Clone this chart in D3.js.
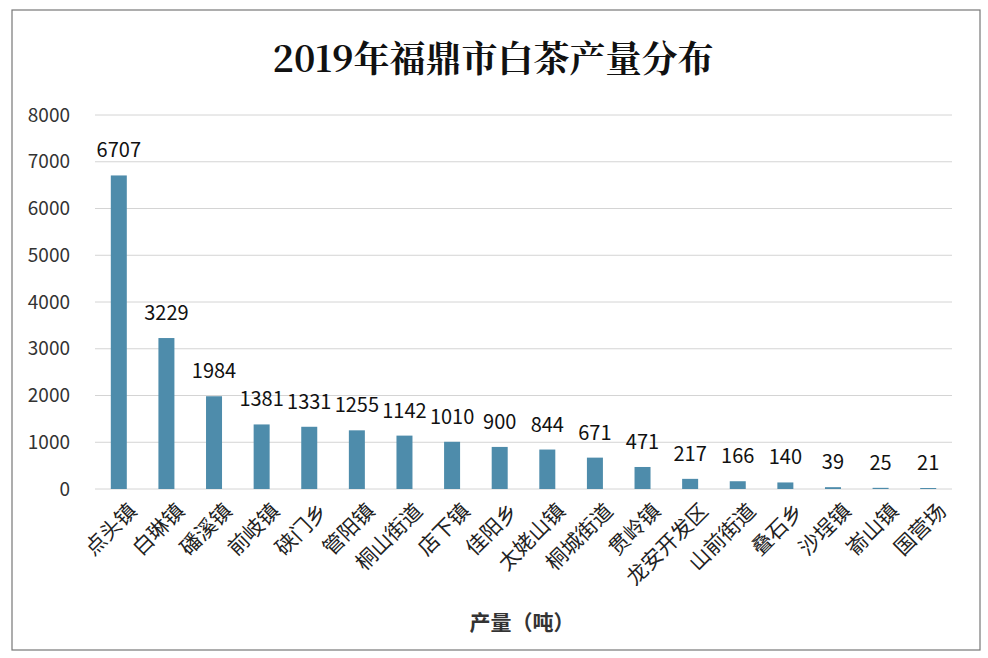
<!DOCTYPE html>
<html><head><meta charset="utf-8">
<script src="https://cdn.jsdelivr.net/npm/d3@7"></script>
<style>body{margin:0;background:#fff}</style>
</head><body><div id="chart"></div>
<script>
const towns = ["点头镇","白琳镇","磻溪镇","前岐镇","硖门乡","管阳镇","桐山街道","店下镇","佳阳乡","太姥山镇","桐城街道","贯岭镇","龙安开发区","山前街道","叠石乡","沙埕镇","嵛山镇","国营场"];
const output = [6707,3229,1984,1381,1331,1255,1142,1010,900,844,671,471,217,166,140,39,25,21];
const yTicks = [0,1000,2000,3000,4000,5000,6000,7000,8000];

const W = 988, H = 658;
const m = { left: 95, right: 36, top: 115, bottom: 169 };
const font = "'Noto Sans CJK SC', 'Noto Sans', sans-serif";

const svg = d3.select("#chart").append("svg").attr("width", W).attr("height", H);
svg.append("rect").attr("x", 12).attr("y", 10).attr("width", 968).attr("height", 640)
    .attr("fill", "#fff").attr("stroke", "#777").attr("stroke-width", 1.2);

const x = d3.scaleBand().domain(towns).range([m.left, W - m.right]);
const y = d3.scaleLinear().domain([0, 8000]).range([H - m.bottom, m.top]);

// gridlines
svg.append("g").selectAll("line").data(yTicks).join("line")
    .attr("x1", m.left).attr("x2", W - m.right)
    .attr("y1", d => y(d)).attr("y2", d => y(d))
    .attr("stroke", "#d4d4d4");

// y axis labels
svg.append("g").attr("transform", `translate(${m.left - 22},0)`)
    .call(d3.axisLeft(y).tickValues(yTicks).tickSize(0).tickFormat(d3.format("d")))
    .call(g => g.select(".domain").remove())
    .selectAll("text").attr("font-family", font).attr("font-size", 19).attr("fill", "#333");

// bars
svg.append("g").selectAll("rect").data(output).join("rect")
    .attr("x", (d, i) => x(towns[i]) + x.bandwidth() / 2 - 8)
    .attr("width", 16)
    .attr("y", d => y(d))
    .attr("height", d => y(0) - y(d))
    .attr("fill", "#4e8cab");

// value labels
svg.append("g").selectAll("text").data(output).join("text")
    .attr("x", (d, i) => x(towns[i]) + x.bandwidth() / 2)
    .attr("y", d => y(d) - 18)
    .attr("text-anchor", "middle")
    .attr("font-family", font).attr("font-size", 20).attr("fill", "#111")
    .text(d => d);

// x labels
svg.append("g").attr("transform", `translate(0,${y(0)})`)
    .call(d3.axisBottom(x).tickSize(0))
    .call(g => g.select(".domain").remove())
    .selectAll("text")
    .attr("font-family", font).attr("font-size", 21).attr("fill", "#222")
    .attr("text-anchor", "end")
    .attr("dy", "0.35em")
    .attr("transform", "translate(12,16) rotate(-45)");

// title
svg.append("text").attr("x", 493).attr("y", 72).attr("text-anchor", "middle")
    .attr("font-family", "'Noto Serif CJK SC', 'Noto Sans CJK SC', serif")
    .attr("font-weight", "bold").attr("font-size", 36).attr("fill", "#111")
    .text("2019年福鼎市白茶产量分布");

// x axis title
svg.append("text").attr("x", 522).attr("y", 630).attr("text-anchor", "middle")
    .attr("font-family", font).attr("font-weight", "bold").attr("font-size", 21).attr("fill", "#333")
    .text("产量（吨）");
</script></body></html>
